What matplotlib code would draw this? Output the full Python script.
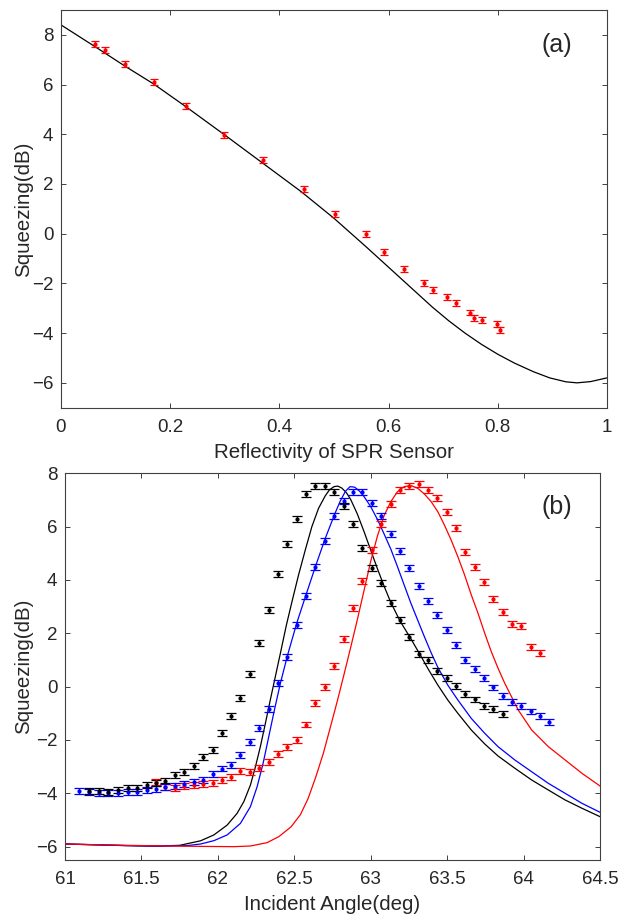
import numpy as np
import matplotlib.pyplot as plt

plt.rcParams['font.family'] = ['Liberation Sans', 'DejaVu Sans']

# ---- panel (a): squeezing vs reflectivity ----
refl_pts = [0.062, 0.080, 0.118, 0.170, 0.2295, 0.2985, 0.370, 0.4445, 0.501,
            0.5586, 0.592, 0.6277, 0.665, 0.681, 0.707, 0.7229, 0.749, 0.756,
            0.771, 0.798, 0.804]
sq_pts = [7.63, 7.40, 6.83, 6.11, 5.14, 3.99, 2.95, 1.81, 0.79,
          0.00, -0.75, -1.41, -1.97, -2.28, -2.54, -2.80, -3.17, -3.39,
          -3.49, -3.64, -3.89]
err_a = 0.12

refl_th = [0.0, 0.062, 0.118, 0.17, 0.23, 0.30, 0.37, 0.44, 0.50, 0.56, 0.60,
           0.64, 0.68, 0.71, 0.74, 0.77, 0.80, 0.83, 0.865, 0.895, 0.925,
           0.945, 0.97, 1.0]
sq_th = [8.40, 7.53, 6.73, 6.02, 5.09, 3.97, 2.83, 1.69, 0.62, -0.55, -1.35,
         -2.15, -2.95, -3.5, -4.0, -4.45, -4.85, -5.2, -5.55, -5.8, -5.96,
         -6.0, -5.95, -5.80]

# ---- panel (b): squeezing vs incident angle ----
blk_x = [61.157, 61.220, 61.283, 61.346, 61.410, 61.471, 61.534, 61.597, 61.656,
         61.719, 61.780, 61.841, 61.904, 61.965, 62.026, 62.087, 62.148, 62.209,
         62.270, 62.333, 62.394, 62.455, 62.516, 62.577, 62.638, 62.699, 62.762,
         62.823, 62.885, 62.946, 63.009, 63.070, 63.131, 63.192, 63.252, 63.314,
         63.375, 63.436, 63.497, 63.558, 63.619, 63.680, 63.741, 63.802, 63.863]
blk_y = [-3.91, -3.91, -3.96, -3.87, -3.81, -3.80, -3.69, -3.62, -3.52, -3.31,
         -3.19, -2.97, -2.65, -2.37, -1.75, -1.11, -0.42, 0.49, 1.63, 2.87, 4.21,
         5.34, 6.28, 7.24, 7.52, 7.53, 7.29, 6.79, 6.10, 5.19, 4.46, 3.90, 3.14,
         2.49, 1.86, 1.24, 1.00, 0.59, 0.31, 0.01, -0.28, -0.48, -0.71, -0.83,
         -1.03]

blu_x = [61.094, 61.157, 61.220, 61.283, 61.346, 61.410, 61.471, 61.534, 61.597,
         61.656, 61.719, 61.780, 61.841, 61.904, 61.965, 62.026, 62.087, 62.148,
         62.209, 62.270, 62.333, 62.394, 62.455, 62.516, 62.577, 62.638, 62.699,
         62.760, 62.823, 62.885, 62.946, 63.009, 63.070, 63.131, 63.192, 63.252,
         63.314, 63.375, 63.436, 63.497, 63.558, 63.619, 63.680, 63.741, 63.802,
         63.863, 63.924, 63.985, 64.046, 64.107, 64.168]
blu_y = [-3.91, -3.95, -4.00, -4.00, -4.00, -3.95, -3.94, -3.87, -3.85, -3.77,
         -3.71, -3.65, -3.56, -3.50, -3.27, -3.07, -2.94, -2.56, -2.09, -1.54,
         -0.84, 0.13, 1.10, 2.30, 3.40, 4.49, 5.47, 6.39, 6.96, 7.29, 7.29, 6.89,
         6.39, 5.74, 5.09, 4.46, 3.79, 3.21, 2.69, 2.12, 1.55, 1.00, 0.67, 0.32,
         -0.03, -0.34, -0.56, -0.71, -0.93, -1.11, -1.31]

red_x = [61.597, 61.656, 61.719, 61.780, 61.841, 61.904, 61.965, 62.026, 62.087,
         62.148, 62.209, 62.270, 62.333, 62.394, 62.455, 62.516, 62.577, 62.638,
         62.699, 62.760, 62.823, 62.885, 62.946, 63.009, 63.070, 63.131, 63.192,
         63.252, 63.314, 63.375, 63.436, 63.497, 63.558, 63.619, 63.680, 63.741,
         63.802, 63.863, 63.924, 63.985, 64.046, 64.107]
red_y = [-3.56, -3.75, -3.79, -3.72, -3.70, -3.65, -3.60, -3.51, -3.40, -3.16,
         -3.21, -3.06, -2.81, -2.52, -2.27, -1.99, -1.42, -0.60, -0.01, 0.76,
         1.80, 2.94, 3.96, 5.12, 6.10, 6.85, 7.37, 7.54, 7.61, 7.37, 7.06, 6.54,
         5.94, 5.05, 4.50, 3.91, 3.29, 2.81, 2.36, 2.27, 1.50, 1.27]
err_b = 0.11

blk_th_x = [61.0, 61.2, 61.4, 61.6, 61.75, 61.887, 61.974, 62.061, 62.126, 62.170,
            62.213, 62.246, 62.278, 62.311, 62.343, 62.376, 62.409, 62.448, 62.485,
            62.528, 62.572, 62.615, 62.659, 62.702, 62.730, 62.760, 62.785, 62.81,
            62.840, 62.868, 62.912, 62.956, 63.0, 63.044, 63.088, 63.132, 63.193,
            63.257, 63.318, 63.377, 63.439, 63.504, 63.570, 63.658, 63.746, 63.833,
            63.943, 64.053, 64.162, 64.272, 64.382, 64.5]
blk_th_y = [-5.90, -5.93, -5.96, -5.98, -5.95, -5.78, -5.56, -5.19, -4.75, -4.31,
            -3.69, -3.0, -2.25, -1.375, -0.5, 0.375, 1.25, 2.30, 3.19, 4.19, 5.125,
            6.0, 6.69, 7.15, 7.38, 7.50, 7.52, 7.45, 7.28, 7.03, 6.48, 5.82, 5.12,
            4.42, 3.76, 3.15, 2.45, 1.85, 1.25, 0.65, 0.06, -0.5, -1.0, -1.625,
            -2.15, -2.6, -3.06, -3.5, -3.875, -4.25, -4.56, -4.875]

blu_th_x = [61.0, 61.2, 61.4, 61.6, 61.8, 61.887, 61.974, 62.061, 62.148, 62.213,
            62.257, 62.296, 62.333, 62.370, 62.409, 62.457, 62.517, 62.580, 62.641,
            62.702, 62.763, 62.800, 62.835, 62.865, 62.895, 62.925, 62.956, 63.0,
            63.044, 63.088, 63.132, 63.175, 63.219, 63.263, 63.307, 63.351, 63.395,
            63.439, 63.504, 63.570, 63.658, 63.746, 63.833, 63.943, 64.053, 64.162,
            64.272, 64.382, 64.5]
blu_th_y = [-5.90, -5.93, -5.96, -5.98, -5.96, -5.90, -5.775, -5.56, -5.125, -4.5,
            -3.75, -2.875, -1.875, -0.875, 0.125, 1.2, 2.4, 3.5, 4.55, 5.55, 6.45,
            6.95, 7.33, 7.50, 7.48, 7.34, 7.13, 6.75, 6.27, 5.72, 5.15, 4.5, 3.81,
            3.125, 2.5, 1.875, 1.275, 0.725, 0.06, -0.5, -1.19, -1.75, -2.25,
            -2.75, -3.19, -3.625, -4.0, -4.375, -4.71]

red_th_x = [61.0, 61.3, 61.6, 61.9, 62.104, 62.213, 62.322, 62.40, 62.48, 62.54,
            62.59, 62.64, 62.69, 62.737, 62.781, 62.825, 62.868, 62.912, 62.956,
            63.0, 63.044, 63.088, 63.132, 63.175, 63.219, 63.263, 63.307, 63.351,
            63.395, 63.439, 63.482, 63.526, 63.570, 63.614, 63.658, 63.702, 63.746,
            63.789, 63.833, 63.877, 63.921, 63.965, 64.053, 64.162, 64.272, 64.382,
            64.5]
red_th_y = [-5.90, -5.94, -5.97, -5.99, -6.0, -5.975, -5.85, -5.62, -5.25, -4.8,
            -4.2, -3.4, -2.5, -1.5, -0.55, 0.45, 1.45, 2.5, 3.6, 4.7, 5.65, 6.42,
            6.94, 7.31, 7.5, 7.54, 7.44, 7.225, 6.94, 6.56, 6.06, 5.5, 4.875, 4.19,
            3.44, 2.75, 2.0, 1.31, 0.69, 0.125, -0.375, -0.875, -1.625, -2.25,
            -2.75, -3.25, -3.725]

txt = '#262626'
W, H = 630, 915
fig = plt.figure(figsize=(W / 100, H / 100), dpi=100)


def px_axes(left, top, right, bottom):
    return fig.add_axes([left / W, 1 - bottom / H, (right - left) / W, (bottom - top) / H])


def style(ax, left):
    for s in ax.spines.values():
        s.set_color('#404040')
        s.set_linewidth(0.8)
    ax.tick_params(direction='in', length=3.5, width=0.7, top=True, right=True,
                   colors='#404040', labelcolor=txt, labelsize=13.5)
    ax.tick_params(axis='x', pad=8)
    ax.tick_params(axis='y', pad=5.5)
    # ylabel: right edge of rotated text box at x = 33 px
    width = ax.get_position().width * W
    ax.yaxis.set_label_coords((33 - left) / width, 0.5)


# (a)
ax1 = px_axes(61, 10, 607, 407.7)
ax1.plot(refl_th, sq_th, color='black', lw=0.9)
ax1.errorbar(refl_pts, sq_pts, yerr=err_a, fmt='.', color='red', ms=4,
             elinewidth=0.9, capsize=3, capthick=0.9)
ax1.set_xlim(0, 1)
ax1.set_ylim(-7, 9)
ax1.set_xticks([0, 0.2, 0.4, 0.6, 0.8, 1])
ax1.set_xticklabels(['0', '0.2', '0.4', '0.6', '0.8', '1'])
ax1.set_yticks([-6, -4, -2, 0, 2, 4, 6, 8])
ax1.set_xlabel('Reflectivity of SPR Sensor', fontsize=14.8, color=txt, labelpad=5)
ax1.set_ylabel('Squeezing(dB)', fontsize=14.8, color=txt)
ax1.text(0.908, 7.6, '(a)', fontsize=18, color=txt, ha='center', va='center')
style(ax1, 61)

# (b)
ax2 = px_axes(65, 473.3, 600, 860)
ax2.plot(blk_th_x, blk_th_y, color='black', lw=0.9)
ax2.plot(blu_th_x, blu_th_y, color='blue', lw=0.9)
ax2.plot(red_th_x, red_th_y, color='red', lw=0.9)
for xs, ys, c in [(red_x, red_y, 'red'), (blu_x, blu_y, 'blue'), (blk_x, blk_y, 'black')]:
    ax2.errorbar(xs, ys, yerr=err_b, fmt='.', color=c, ms=4,
                 elinewidth=0.9, capsize=3.3, capthick=0.9)
ax2.set_xlim(61, 64.5)
ax2.set_ylim(-6.5, 8)
ax2.set_xticks([61, 61.5, 62, 62.5, 63, 63.5, 64, 64.5])
ax2.set_xticklabels(['61', '61.5', '62', '62.5', '63', '63.5', '64', '64.5'])
ax2.set_yticks([-6, -4, -2, 0, 2, 4, 6, 8])
ax2.set_xlabel('Incident Angle(deg)', fontsize=14.8, color=txt, labelpad=5)
ax2.set_ylabel('Squeezing(dB)', fontsize=14.8, color=txt)
ax2.text(64.22, 6.75, '(b)', fontsize=18, color=txt, ha='center', va='center')
style(ax2, 65)

fig.savefig('out.png', dpi=100)
